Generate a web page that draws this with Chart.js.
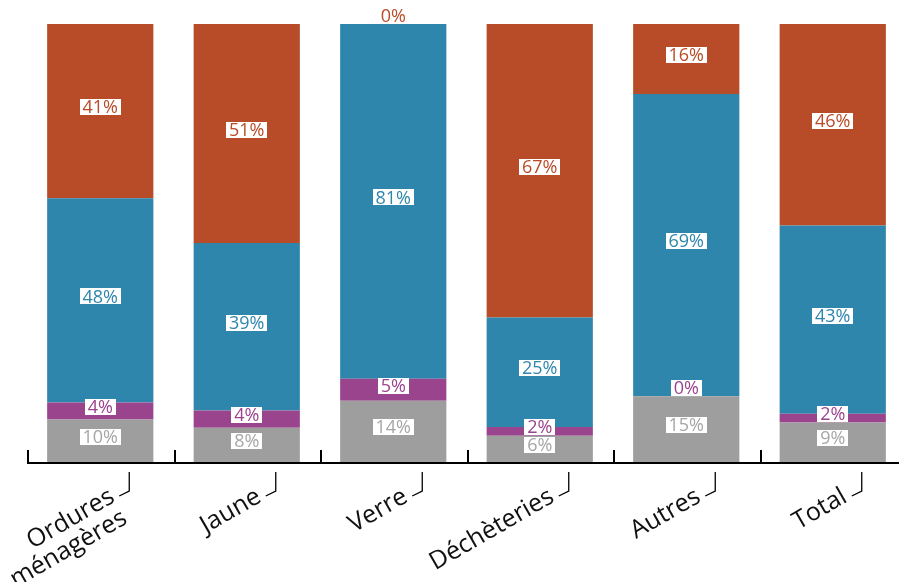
<!DOCTYPE html>
<html>
<head>
<meta charset="utf-8">
<title>Répartition par flux</title>
<style>
body {
	margin: 0;
	overflow: hidden;
	background: #fff;
}
#chart {
	display: block;
}
</style>
</head>
<body>
<canvas id="chart" width="906" height="582"></canvas>
<script src="https://cdn.jsdelivr.net/npm/chart.js@4/dist/chart.umd.min.js"></script>
<script>
	// categories (multi-line labels as arrays)
	var categories = [['Ordures', 'ménagères'], 'Jaune', 'Verre', 'Déchèteries', 'Autres', 'Total'];
	// shares shown on the bars, bottom to top
	var gris = [10, 8, 14, 6, 15, 9];
	var violet = [4, 4, 5, 2, 0, 2];
	var bleu = [48, 39, 81, 25, 69, 43];
	var orange = [41, 51, 0, 67, 16, 46];

	var series = [
		{ name: 'Gris', values: gris, fill: '#9e9e9e', text: '#a6a6a6' },
		{ name: 'Violet', values: violet, fill: '#9b448e', text: '#9b448e' },
		{ name: 'Bleu', values: bleu, fill: '#2e86ad', text: '#2e86ad' },
		{ name: 'Orange', values: orange, fill: '#b84c28', text: '#b94b27' }
	];

	// bars are drawn as 100% stacks, labels keep the rounded values
	var totals = categories.map(function(c, i) {
		var t = 0;
		series.forEach(function(s) { t += s.values[i]; });
		return t;
	});

	var datasets = series.map(function(s) {
		return {
			label: s.name,
			data: s.values.map(function(v, i) { return v / totals[i] * 100; }),
			backgroundColor: s.fill,
			borderWidth: 0,
			barPercentage: 0.725,
			categoryPercentage: 1
		};
	});

	var labelFont = '18px "Open Sans"';
	var axisFont = '25px "Open Sans"';

	var segmentLabels = {
		id: 'segmentLabels',
		afterDatasetsDraw: function(chart) {
			var ctx = chart.ctx;
			ctx.save();
			ctx.font = labelFont;
			ctx.textAlign = 'center';
			ctx.textBaseline = 'middle';
			series.forEach(function(s, d) {
				var meta = chart.getDatasetMeta(d);
				meta.data.forEach(function(bar, i) {
					var v = s.values[i];
					var y = (bar.y + bar.base) / 2 - 4;
					if (v === 0) y -= 4;
					var txt = v + '%';
					var w = ctx.measureText(txt).width + 6;
					ctx.fillStyle = '#fff';
					ctx.fillRect(Math.round(bar.x - w / 2), Math.round(y - 8), Math.round(w), 16);
					ctx.fillStyle = s.text;
					ctx.fillText(txt, bar.x, y + 1);
				});
			});
			ctx.restore();
		}
	};

	var axisDecor = {
		id: 'axisDecor',
		afterDraw: function(chart) {
			var ctx = chart.ctx;
			var area = chart.chartArea;
			var x = chart.scales.x;
			var step = (area.right - area.left) / categories.length;
			ctx.save();
			ctx.strokeStyle = '#000';
			ctx.lineWidth = 2;
			// baseline
			ctx.beginPath();
			ctx.moveTo(area.left, area.bottom + 1);
			ctx.lineTo(area.right, area.bottom + 1);
			ctx.stroke();
			// separators between categories
			for (var k = 0; k < categories.length; k++) {
				var bx = Math.round(area.left + k * step) + 1;
				ctx.beginPath();
				ctx.moveTo(bx, area.bottom + 1);
				ctx.lineTo(bx, area.bottom - 12);
				ctx.stroke();
			}
			// labels with their small hooks
			ctx.font = axisFont;
			ctx.fillStyle = '#111';
			ctx.textAlign = 'right';
			ctx.textBaseline = 'top';
			categories.forEach(function(c, i) {
				var cx = x.getPixelForValue(i);
				var hx = cx + 29;
				ctx.lineWidth = 1.3;
				ctx.beginPath();
				ctx.moveTo(hx, area.bottom + 10);
				ctx.lineTo(hx, area.bottom + 29);
				ctx.lineTo(hx - 10, area.bottom + 34);
				ctx.stroke();
				var lines = Array.isArray(c) ? c : [c];
				ctx.save();
				ctx.translate(cx + 6, area.bottom + 22);
				ctx.rotate(-Math.PI / 6);
				lines.forEach(function(line, j) {
					ctx.fillText(line, 0, j * 25);
				});
				ctx.restore();
			});
			ctx.restore();
		}
	};

	new Chart(document.getElementById('chart'), {
		type: 'bar',
		data: {
			labels: categories,
			datasets: datasets
		},
		options: {
			responsive: false,
			animation: false,
			layout: {
				padding: { left: 27, right: 0, top: 24, bottom: 120 }
			},
			plugins: {
				legend: { display: false },
				tooltip: { enabled: false }
			},
			scales: {
				x: { stacked: true, display: false },
				y: { stacked: true, display: false, min: 0, max: 100 }
			}
		},
		plugins: [segmentLabels, axisDecor]
	});
</script>
</body>
</html>
